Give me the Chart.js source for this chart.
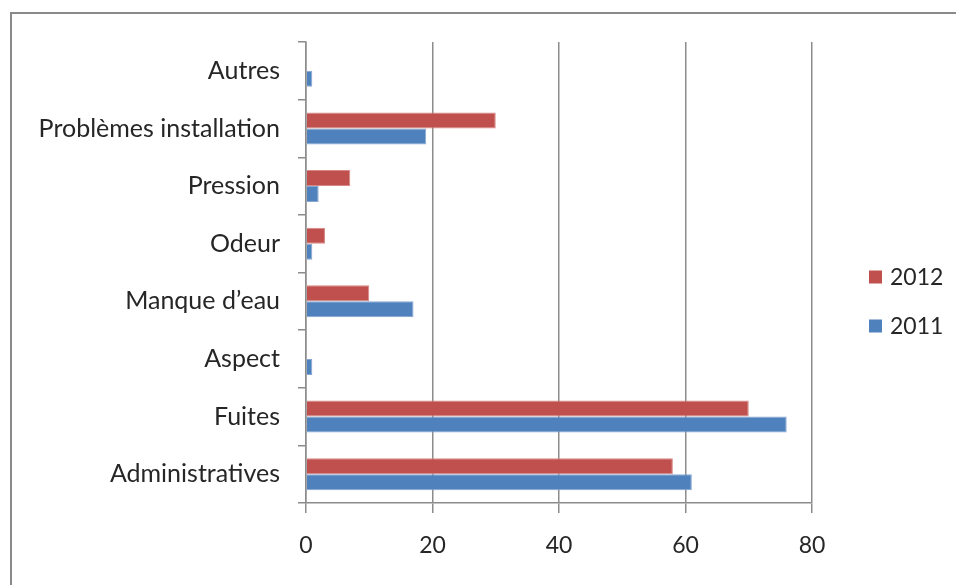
<!DOCTYPE html>
<html>
<head>
<meta charset="utf-8">
<script src="https://cdn.jsdelivr.net/npm/chart.js@4/dist/chart.umd.min.js"></script>
<style>
  html, body { margin: 0; padding: 0; background: #fff; }
  #wrap { position: relative; width: 956px; height: 585px; overflow: hidden; }
  #frame { position: absolute; left: 10px; top: 12px; width: 960px; height: 600px;
           border: 2px solid #8a8a8a; box-sizing: border-box; }
  canvas { position: absolute; left: 0; top: 0; }
</style>
</head>
<body>
<div id="wrap">
  <div id="frame"></div>
  <canvas id="c" width="956" height="585"></canvas>
</div>
<script>
// Complaint categories, listed top to bottom
const categories = [
  'Autres',
  'Problèmes installation',
  'Pression',
  'Odeur',
  'Manque d\u2019eau',
  'Aspect',
  'Fuites',
  'Administratives'
];

const seriesNames = ['2012', '2011'];
const values2012 = [0, 30, 7, 3, 10, 0, 70, 58];
const values2011 = [1, 19, 2, 1, 17, 1, 76, 61];

const xTicks = [0, 20, 40, 60, 80];

const RED = '#C0504D';
const BLUE = '#4F81BD';
const FONT = 'Lato, "Open Sans", sans-serif';
const TEXT = '#262626';
const GRID = '#8c8c8c';

// Legend drawn beside the plot, one row per dataset
const sideLegend = {
  id: 'sideLegend',
  afterDraw(chart) {
    const ctx = chart.ctx;
    const x = 869, y0 = 277, step = 49, box = 13;
    ctx.save();
    ctx.font = '23px ' + FONT;
    ctx.textBaseline = 'middle';
    ctx.textAlign = 'left';
    chart.data.datasets.forEach((ds, i) => {
      const y = y0 + i * step;
      ctx.fillStyle = ds.backgroundColor;
      ctx.fillRect(x, y - box / 2, box, box);
      ctx.fillStyle = TEXT;
      ctx.fillText(ds.label, x + 21, y + 1);
    });
    ctx.restore();
  }
};

new Chart(document.getElementById('c'), {
  type: 'bar',
  data: {
    labels: categories,
    datasets: [
      { label: seriesNames[0], data: values2012, backgroundColor: RED,
        borderColor: '#d58886', borderWidth: 1 },
      { label: seriesNames[1], data: values2011, backgroundColor: BLUE,
        borderColor: '#86a7d1', borderWidth: 1 }
    ]
  },
  options: {
    indexAxis: 'y',
    responsive: false,
    animation: false,
    devicePixelRatio: 1,
    layout: { padding: { top: 42, right: 144, bottom: 0, left: 0 } },
    datasets: { bar: { barPercentage: 1, categoryPercentage: 0.556 } },
    plugins: {
      legend: { display: false },
      tooltip: { enabled: false }
    },
    scales: {
      x: {
        min: 0, max: 80,
        afterBuildTicks(scale) { scale.ticks = xTicks.map(v => ({ value: v })); },
        afterFit(scale) { scale.height = 82; },
        grid: { color: GRID, lineWidth: 1.5, drawTicks: true, tickLength: 10, tickColor: GRID },
        border: { display: true, color: GRID, width: 1.5 },
        ticks: { font: { family: FONT, size: 23 }, color: TEXT, padding: 19 }
      },
      y: {
        afterFit(scale) { scale.width = 306; },
        grid: { offset: true, drawOnChartArea: false, drawTicks: true, tickLength: 8,
                color: GRID, lineWidth: 1.5 },
        border: { display: true, color: GRID, width: 1.5 },
        ticks: { font: { family: FONT, size: 25 }, color: TEXT, padding: 18 }
      }
    }
  },
  plugins: [sideLegend]
});
</script>
</body>
</html>
